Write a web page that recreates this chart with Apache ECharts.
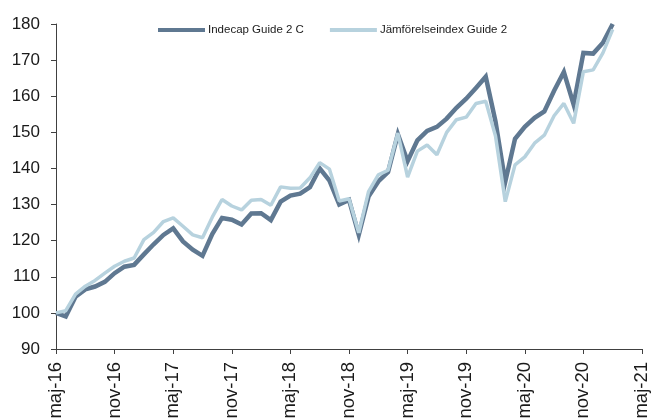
<!DOCTYPE html>
<html>
<head>
<meta http-equiv="Content-Type" content="text/html; charset=utf8">
<title>Indecap Guide 2 C</title>
<script src="https://cdn.jsdelivr.net/npm/echarts@6/dist/echarts.min.js"></script>
<style type="text/css">
html,body{margin:0;padding:0;background:#fff;}
#main{width:651px;height:419px;}
</style>
</head>
<body>
<div id="main"></div>
<script>
// månader maj-16 .. maj-21
var monthNames = ['maj','jun','jul','aug','sep','okt','nov','dec','jan','feb','mar','apr'];
var months = [];
for (var i = 0; i <= 60; i++) {
	var y = 16 + Math.floor((i + 4) / 12);
	months.push(monthNames[i % 12] + '-' + y);
}

var seriesNames = ['Indecap Guide 2 C', 'Jämförelseindex Guide 2'];

var guide2c = [100, 99, 104.5, 106.5, 107.3, 108.6, 111, 112.8, 113.3, 116.2, 119, 121.6, 123.4,
	119.8, 117.5, 115.8, 121.8, 126.3, 125.8, 124.5, 127.5, 127.6, 125.7, 130.8, 132.5,
	133, 134.8, 140, 136.6, 130, 131.3, 121.6, 132.2, 136.4, 139, 149.5, 142, 147.8,
	150.4, 151.5, 153.8, 156.8, 159.3, 162.3, 165.4, 153, 136.3, 148.2, 151.5, 154,
	155.8, 161.5, 166.7, 157.7, 172, 171.8, 174.8, 180];

var jamfor = [100, 100.6, 105.2, 107.4, 109, 111, 112.9, 114.3, 115.2, 120.3, 122.3, 125.3, 126.3,
	124, 121.6, 120.8, 126.5, 131.4, 129.6, 128.5, 131.2, 131.4, 129.8, 134.9, 134.5,
	134.6, 137.4, 141.6, 139.8, 131, 131.6, 122.2, 133.6, 138.2, 139.5, 149.8, 137.6, 144.8,
	146.5, 143.8, 150, 153.5, 154.2, 158, 158.6, 149, 130.8, 141, 143.2, 147,
	149.2, 154.6, 158, 152.5, 166.8, 167.3, 172, 178.5];

var yTicks = {min: 90, max: 180, interval: 10};

var chart = echarts.init(document.getElementById('main'));

var axisColor = '#404040';
var font = 'Liberation Sans';

var option = {
	animation: false,
	backgroundColor: '#ffffff',
	color: ['#5f7891', '#b7d2de'],
	legend: {
		top: 19,
		left: 153,
		itemWidth: 47,
		itemHeight: 4,
		itemGap: 26,
		icon: 'rect',
		textStyle: {color: '#1a1a1a', fontFamily: font, fontSize: 11.5, padding: [0, 0, 0, -2]},
		data: seriesNames
	},
	grid: {left: 56, right: 9, top: 24, bottom: 70, containLabel: false, outerBoundsMode: 'none'},
	xAxis: {
		type: 'category',
		data: months,
		boundaryGap: false,
		axisLine: {lineStyle: {color: axisColor, width: 1}},
		axisTick: {show: true, interval: 5, length: 5, lineStyle: {color: axisColor}},
		axisLabel: {
			interval: 5,
			rotate: 90,
			margin: 13,
			color: '#1a1a1a',
			fontFamily: font,
			fontSize: 18.5
		},
		splitLine: {show: false}
	},
	yAxis: {
		type: 'value',
		min: yTicks.min,
		max: yTicks.max,
		interval: yTicks.interval,
		axisLine: {show: true, lineStyle: {color: axisColor, width: 1}},
		axisTick: {show: true, length: 5, lineStyle: {color: axisColor}},
		axisLabel: {margin: 16, color: '#1a1a1a', fontFamily: font, fontSize: 17},
		splitLine: {show: false}
	},
	series: [
		{
			name: seriesNames[0],
			type: 'line',
			data: guide2c,
			showSymbol: false,
			lineStyle: {width: 4.5, color: '#5f7891', join: 'miter'},
			z: 2
		},
		{
			name: seriesNames[1],
			type: 'line',
			data: jamfor,
			showSymbol: false,
			lineStyle: {width: 3.5, color: '#b7d2de'},
			z: 3
		}
	]
};

chart.setOption(option);
</script>
</body>
</html>
